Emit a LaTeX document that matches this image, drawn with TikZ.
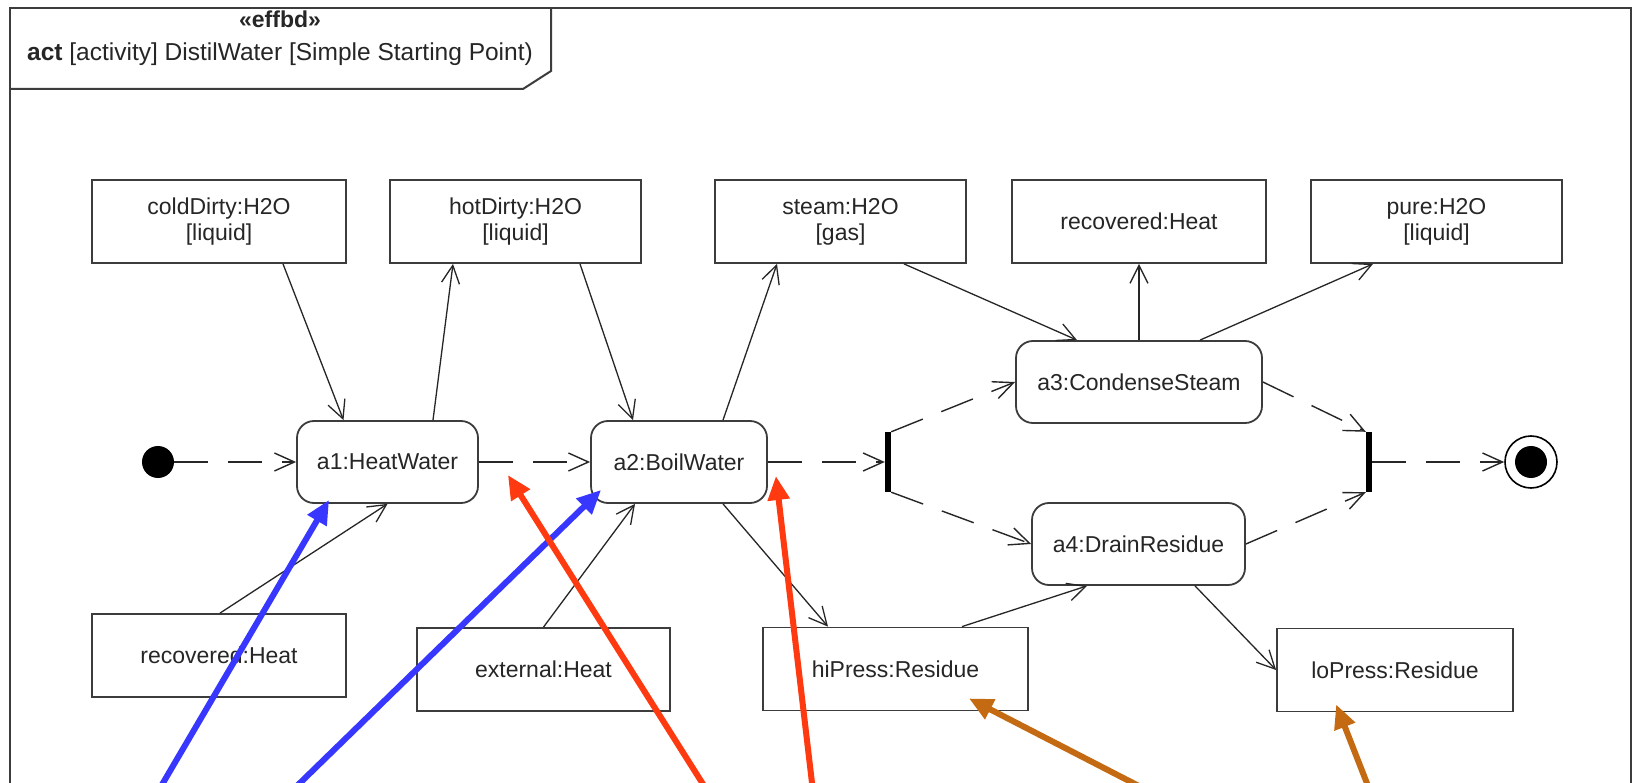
\documentclass[tikz,border=0pt]{standalone}
\usepackage{fontspec}
\setmainfont{Liberation Sans}
\usetikzlibrary{arrows.meta,calc}

\definecolor{ink}{HTML}{262626}
\definecolor{edge}{HTML}{3C3C3C}
\definecolor{noteblue}{HTML}{3737FF}
\definecolor{notered}{HTML}{FF3A10}
\definecolor{noteorange}{HTML}{C46A12}

\begin{document}
\begin{tikzpicture}[x=1pt,y=-1pt,
  font=\fontsize{23}{28}\selectfont,
  objbox/.style={draw=edge, line width=1.8pt, fill=white, text=ink, align=center,
    inner sep=0pt, minimum height=83pt},
  actbox/.style={draw=edge, line width=1.8pt, rounded corners=17pt, fill=white, text=ink,
    inner sep=0pt, minimum height=82pt},
  forkbar/.style={fill=black, draw=none, minimum width=6pt, minimum height=60pt, inner sep=0pt},
  ctrl/.style={draw=ink, line width=1.4pt, dash pattern=on 34pt off 20pt,
    -{Straight Barb[length=20pt,width=18pt]}},
  objflow/.style={draw=ink, line width=1.3pt, -{Straight Barb[length=18pt,width=18pt]}},
  note/.style={line width=6pt, -{Triangle[length=24pt,width=21pt]}},
]
\useasboundingbox (0,0) rectangle (1639,783);
\fill[white] (0,0) rectangle (1639,783);

% diagram frame and its name tab
\draw[edge, line width=2pt] (10,820) -- (10,8) -- (1631,8) -- (1631,820);
\draw[edge, line width=2pt] (10,89) -- (523,89) -- (551,71) -- (551,8);
\node[font=\fontsize{23}{28}\selectfont\bfseries, text=ink] (stereo) at (280,19) {«effbd»};
\node[font=\fontsize{24.5}{28}\selectfont, text=ink] (title) at (280,54)
  {\textbf{act} [activity] DistilWater [Simple Starting Point)};

% object nodes, upper row
\node[objbox, minimum width=254pt] (cold)  at (219,221.5)  {coldDirty:H2O\\[-2pt][liquid]};
\node[objbox, minimum width=251pt] (hot)   at (515.5,221.5) {hotDirty:H2O\\[-2pt][liquid]};
\node[objbox, minimum width=251pt] (steam) at (840.5,221.5) {steam:H2O\\[-2pt][gas]};
\node[objbox, minimum width=254pt] (recT)  at (1139,221.5)  {recovered:Heat};
\node[objbox, minimum width=251pt] (pure)  at (1436.5,221.5) {pure:H2O\\[-2pt][liquid]};

% object nodes, lower row
\node[objbox, minimum width=254pt] (recB) at (219,655.5)   {recovered:Heat};
\node[objbox, minimum width=253pt] (ext)  at (543.5,669.5) {external:Heat};
\node[objbox, minimum width=265pt] (hiP)  at (895.5,669)   {hiPress:Residue};
\node[objbox, minimum width=236pt] (loP)  at (1395,670)    {loPress:Residue};

% actions
\node[actbox, minimum width=181pt] (a1) at (387.5,462) {a1:HeatWater};
\node[actbox, minimum width=176pt] (a2) at (679,462)   {a2:BoilWater};
\node[actbox, minimum width=246pt] (a3) at (1139,382)  {a3:CondenseSteam};
\node[actbox, minimum width=213pt] (a4) at (1138.5,544) {a4:DrainResidue};

% control nodes
\node[circle, fill=black, minimum size=32pt, inner sep=0pt] (init) at (158,462) {};
\node[forkbar] (fork) at (888,462) {};
\node[forkbar] (join) at (1369,462) {};
\node[circle, draw=black, line width=1.6pt, fill=white, minimum size=52pt, inner sep=0pt] (final) at (1531,462) {};
\node[circle, fill=black, minimum size=32pt, inner sep=0pt] (finaldot) at (final.center) {};

% control flows
\draw[ctrl] (init) -- (a1);
\draw[ctrl] (a1) -- (a2);
\draw[ctrl] (a2) -- (fork.west);
\draw[ctrl] (fork.north east) -- (a3.west);
\draw[ctrl] (fork.south east) -- (a4.west);
\draw[ctrl] (a3.east) -- (join.north west);
\draw[ctrl] (a4.east) -- (join.south west);
\draw[ctrl] (join.east) -- (final);

% object flows
\draw[objflow] ([xshift=64pt]cold.south) -- ([xshift=-44pt]a1.north);
\draw[objflow] ([xshift=45.5pt]a1.north) -- ([xshift=-62.5pt]hot.south);
\draw[objflow] ([xshift=64.5pt]hot.south) -- ([xshift=-46pt]a2.north);
\draw[objflow] ([xshift=44pt]a2.north) -- ([xshift=-63.5pt]steam.south);
\draw[objflow] ([xshift=63.5pt]steam.south) -- ([xshift=-62pt]a3.north);
\draw[objflow] (a3.north) -- (recT.south);
\draw[objflow] ([xshift=61pt]a3.north) -- ([xshift=-63.5pt]pure.south);
\draw[objflow] ([xshift=1pt]recB.north) -- (a1.south);
\draw[objflow] (ext.north) -- ([xshift=-44pt]a2.south);
\draw[objflow] ([xshift=44pt]a2.south) -- ([xshift=-67.5pt]hiP.north);
\draw[objflow] ([xshift=66.5pt]hiP.north) -- ([xshift=-51.5pt]a4.south);
\draw[objflow] ([xshift=56.5pt]a4.south) -- (loP.west);

% callout arrows
\coordinate (b1) at (153,800);
\coordinate (b2) at (282.5,800);
\coordinate (r1) at (713,800);
\coordinate (r2) at (814,800);
\coordinate (o1) at (1166,800);
\coordinate (o2) at (1373.5,800);
\draw[note, noteblue] (b1) -- ([xshift=33pt,yshift=4pt]a1.south west);
\draw[note, noteblue] (b2) -- ([xshift=11pt,yshift=14pt]a2.south west);
\draw[note, notered] (r1) -- ([xshift=29pt,yshift=-13pt]a1.east);
\draw[note, notered] (r2) -- ([xshift=8pt,yshift=-14pt]a2.east);
\draw[note, noteorange] (o1) -- ([xshift=-60pt,yshift=13pt]hiP.south east);
\draw[note, noteorange] (o2) -- ([xshift=60pt,yshift=8pt]loP.south west);
\end{tikzpicture}
\end{document}
